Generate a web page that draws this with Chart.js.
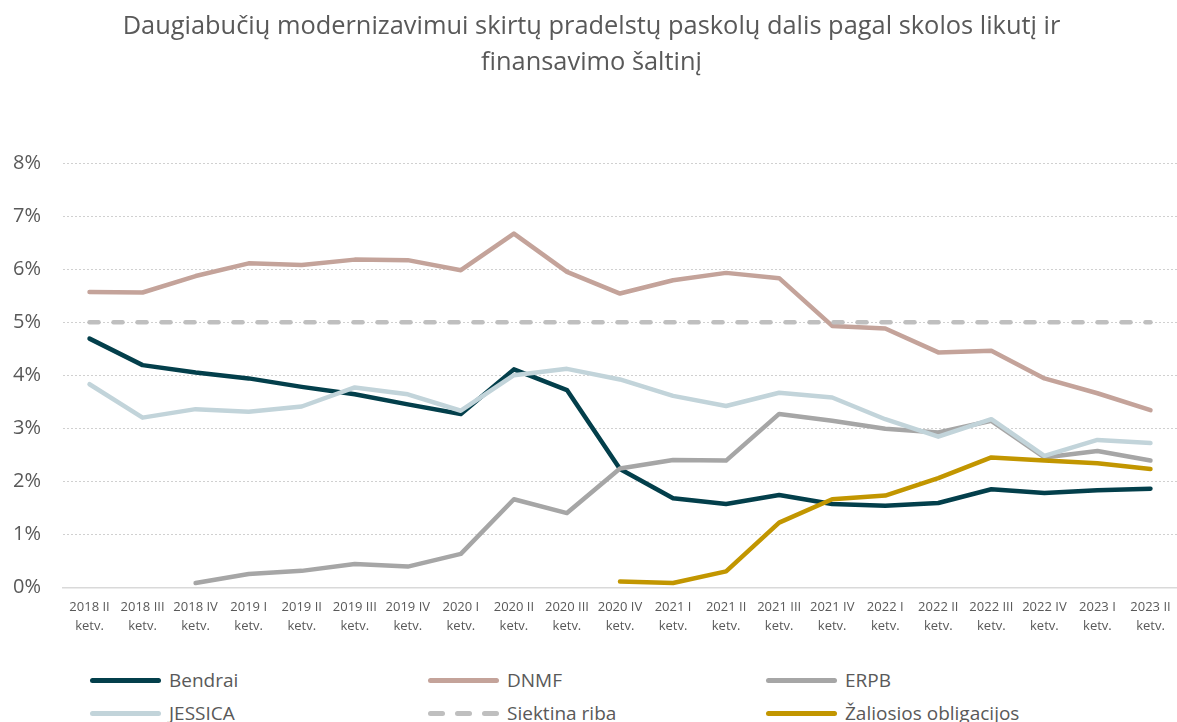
<!DOCTYPE html>
<html>
<head>
<meta charset="utf-8">
<script src="https://cdn.jsdelivr.net/npm/chart.js@4/dist/chart.umd.min.js"></script>
<style>
  html, body { margin: 0; padding: 0; background: #fff; }
  #wrap { position: relative; width: 1177px; height: 722px; overflow: hidden; font-family: "Open Sans", sans-serif; }
  #box { position: absolute; left: 0; top: 0; width: 1177px; height: 655px; }
  .item { position: absolute; display: flex; align-items: center; font-size: 19px; color: #595959; white-space: nowrap; transform: translateY(-50%); }
  .swatch { width: 71px; height: 5px; border-radius: 3px; margin-right: 8px; }
  .dashes { width: 71px; display: flex; justify-content: space-between; margin-right: 8px; }
  .dashes span { width: 17px; height: 5px; border-radius: 3px; }
</style>
</head>
<body>
<div id="wrap">
  <div id="box"><canvas id="chart"></canvas></div>
  <div id="legend"></div>
</div>
<script>
const quarters = ['2018 II', '2018 III', '2018 IV', '2019 I', '2019 II', '2019 III', '2019 IV',
  '2020 I', '2020 II', '2020 III', '2020 IV', '2021 I', '2021 II', '2021 III', '2021 IV',
  '2022 I', '2022 II', '2022 III', '2022 IV', '2023 I', '2023 II'];

const bendrai = [4.69, 4.19, 4.05, 3.94, 3.78, 3.64, 3.45, 3.27, 4.11, 3.72, 2.23,
  1.68, 1.57, 1.74, 1.57, 1.54, 1.59, 1.85, 1.78, 1.83, 1.86];
const dnmf = [5.57, 5.56, 5.87, 6.11, 6.08, 6.18, 6.17, 5.98, 6.67, 5.95, 5.54,
  5.79, 5.93, 5.83, 4.93, 4.88, 4.43, 4.46, 3.94, 3.66, 3.34];
const erpb = [null, null, 0.08, 0.25, 0.31, 0.44, 0.39, 0.63, 1.66, 1.40, 2.24,
  2.40, 2.39, 3.27, 3.14, 2.99, 2.92, 3.14, 2.45, 2.57, 2.39];
const jessica = [3.83, 3.20, 3.36, 3.31, 3.41, 3.77, 3.64, 3.33, 4.00, 4.12, 3.92,
  3.61, 3.42, 3.67, 3.58, 3.17, 2.84, 3.17, 2.48, 2.78, 2.72];
const siektina = [5, 5, 5, 5, 5, 5, 5, 5, 5, 5, 5, 5, 5, 5, 5, 5, 5, 5, 5, 5, 5];
const zaliosios = [null, null, null, null, null, null, null, null, null, null, 0.11,
  0.08, 0.30, 1.22, 1.66, 1.73, 2.06, 2.45, 2.39, 2.34, 2.23];

const yTicks = [0, 1, 2, 3, 4, 5, 6, 7, 8];

const series = [
  { label: 'Bendrai', data: bendrai, color: '#033f4b' },
  { label: 'DNMF', data: dnmf, color: '#c4a39a' },
  { label: 'ERPB', data: erpb, color: '#a6a6a6' },
  { label: 'JESSICA', data: jessica, color: '#c2d4da' },
  { label: 'Siektina riba', data: siektina, color: '#bfbfbf', dash: [9, 15] },
  { label: 'Žaliosios obligacijos', data: zaliosios, color: '#c29600' }
];

const grey = '#595959';
const font = '"Open Sans", sans-serif';

new Chart(document.getElementById('chart'), {
  type: 'line',
  data: {
    labels: quarters.map(q => [q, 'ketv.']),
    datasets: series.map((s, i) => ({
      label: s.label,
      data: s.data,
      borderColor: s.color,
      backgroundColor: s.color,
      borderWidth: 4.5,
      borderDash: s.dash || [],
      borderCapStyle: 'round',
      borderJoinStyle: 'round',
      pointRadius: 0,
      tension: 0,
      spanGaps: false,
      order: series.length - i   // later series drawn on top, like the original
    }))
  },
  options: {
    responsive: true,
    maintainAspectRatio: false,
    animation: false,
    layout: { padding: { left: 6, right: 0, top: 0, bottom: 8 } },
    plugins: {
      legend: { display: false },
      tooltip: { enabled: false },
      title: {
        display: true,
        text: ['Daugiabučių modernizavimui skirtų pradelstų paskolų dalis pagal skolos likutį ir', 'finansavimo šaltinį'],
        color: grey,
        font: { family: font, size: 25.4, weight: 'normal', lineHeight: 1.4 },
        padding: { top: 9, bottom: 83 }
      }
    },
    scales: {
      x: {
        offset: true,
        afterFit: axis => { axis.paddingLeft = 0; axis.paddingRight = 0; },
        grid: { display: false, drawTicks: false },
        border: { display: true, color: '#d9d9d9', width: 1.5 },
        ticks: {
          color: grey,
          font: { family: font, size: 13, lineHeight: 1.45 },
          padding: 11,
          maxRotation: 0,
          autoSkip: false
        }
      },
      y: {
        min: 0,
        max: 8,
        afterBuildTicks: axis => { axis.ticks = yTicks.map(v => ({ value: v })); },
        afterFit: axis => { axis.width = 57; },
        grid: {
          color: ctx => ctx.tick && ctx.tick.value === 0 ? 'rgba(0,0,0,0)' : '#d0d0d0',
          lineWidth: 1,
          drawTicks: false
        },
        border: { display: false, dash: [2, 2] },
        ticks: {
          color: grey,
          font: { family: font, size: 20 },
          padding: 22,
          callback: v => v + '%'
        }
      }
    }
  }
});

// legend laid out in three columns, as in the original
const legendCols = [90, 428, 766];
const legendRows = [680, 713];
const legend = document.getElementById('legend');
series.forEach((s, i) => {
  const item = document.createElement('div');
  item.className = 'item';
  item.style.left = legendCols[i % 3] + 'px';
  item.style.top = legendRows[Math.floor(i / 3)] + 'px';
  let sample;
  if (s.dash) {
    sample = document.createElement('div');
    sample.className = 'dashes';
    for (let k = 0; k < 3; k++) {
      const d = document.createElement('span');
      d.style.background = s.color;
      sample.appendChild(d);
    }
  } else {
    sample = document.createElement('div');
    sample.className = 'swatch';
    sample.style.background = s.color;
  }
  item.appendChild(sample);
  const txt = document.createElement('span');
  txt.textContent = s.label;
  item.appendChild(txt);
  legend.appendChild(item);
});
</script>
</body>
</html>
